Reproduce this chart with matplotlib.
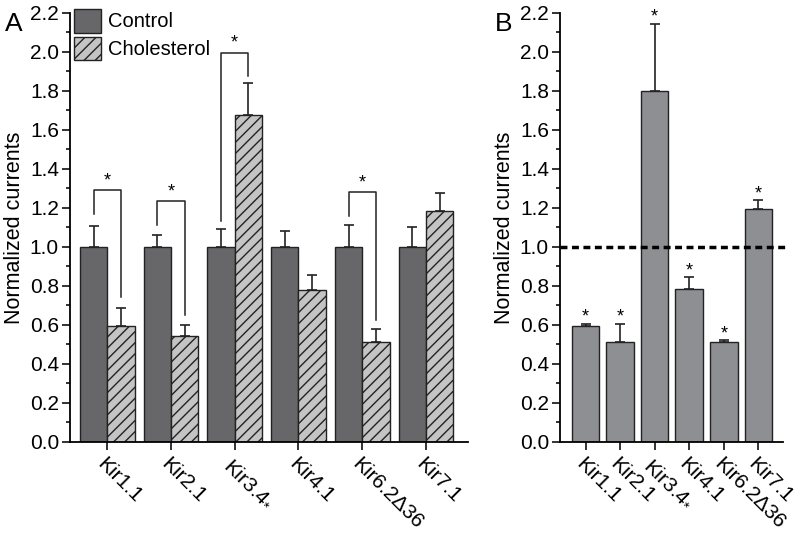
import numpy as np
import matplotlib
matplotlib.use("Agg")
import matplotlib.pyplot as plt
from matplotlib.ticker import MultipleLocator
from matplotlib.patches import Patch

plt.rcParams['font.family'] = ['Liberation Sans', 'DejaVu Sans']
plt.rcParams['mathtext.fontset'] = 'custom'
plt.rcParams['mathtext.rm'] = 'Liberation Sans'
plt.rcParams['hatch.linewidth'] = 1.0

# data
channels = ["Kir1.1", "Kir2.1", "Kir3.4$_{*}$", "Kir4.1", "Kir6.2\u039436", "Kir7.1"]
control = [1.0, 1.0, 1.0, 1.0, 1.0, 1.0]
control_err = [0.105, 0.06, 0.093, 0.08, 0.112, 0.10]
chol = [0.593, 0.545, 1.678, 0.778, 0.511, 1.185]
chol_err = [0.093, 0.055, 0.164, 0.078, 0.07, 0.09]
# brackets: group index, bar top y, left leg bottom, right leg bottom
brackets = [(0, 1.29, 1.17, 0.745), (1, 1.233, 1.114, 0.65),
            (2, 1.996, 1.131, 1.878), (4, 1.28, 1.16, 0.625)]

ratio = [0.592, 0.51, 1.80, 0.785, 0.511, 1.195]
ratio_err = [0.015, 0.095, 0.345, 0.06, 0.01, 0.045]

dark = "#676769"
light = "#c4c4c4"
mid = "#8e8f93"
edge = "#222222"
fs_tick = 15
fs_lab = 15.5

fig = plt.figure(figsize=(8, 5.37), dpi=100)

def style_axes(ax):
    ax.spines['top'].set_visible(False)
    ax.spines['right'].set_visible(False)
    ax.spines['left'].set_linewidth(1.3)
    ax.spines['bottom'].set_linewidth(1.3)
    ax.set_ylim(0, 2.2)
    ax.yaxis.set_major_locator(MultipleLocator(0.2))
    ax.yaxis.set_minor_locator(MultipleLocator(0.1))
    ax.yaxis.set_major_formatter(matplotlib.ticker.FormatStrFormatter('%.1f'))
    ax.tick_params(axis='y', which='major', length=6, width=1.3, labelsize=fs_tick, pad=2, color=edge)
    ax.tick_params(axis='y', which='minor', length=3, width=1.3, color=edge)
    ax.tick_params(axis='x', which='major', length=6, width=1.3, labelsize=fs_tick, pad=3, color=edge)
    ax.set_ylabel("Normalized currents", fontsize=fs_lab, labelpad=3)

# ---- panel A
axA = fig.add_axes([0.0875, 0.177, 0.4975, 0.799])
x = np.arange(len(channels))
w = 0.43
axA.bar(x - w / 2, control, w, color=dark, edgecolor=edge, linewidth=1.0, zorder=2)
axA.bar(x + w / 2, chol, w, color=light, edgecolor=edge, linewidth=1.0, hatch='///', zorder=2)
axA.errorbar(x - w / 2, control, yerr=[np.zeros(6), control_err], fmt='none',
             ecolor=edge, elinewidth=1.2, capsize=3.5, capthick=1.2, zorder=1)
axA.errorbar(x + w / 2, chol, yerr=[np.zeros(6), chol_err], fmt='none',
             ecolor=edge, elinewidth=1.2, capsize=3.5, capthick=1.2, zorder=1)
for g, top, lb, rb in brackets:
    xl, xr = g - w / 2, g + w / 2
    axA.plot([xl, xl, xr, xr], [lb, top, top, rb], color=edge, lw=1.1, zorder=3)
    axA.text(g, top + 0.005, "*", ha='center', va='bottom', fontsize=13)
axA.set_xlim(-0.585, 5.66)
axA.set_xticks(x)
axA.set_xticklabels(channels, rotation=-45, ha='left', rotation_mode='anchor')
style_axes(axA)
handles = [Patch(facecolor=dark, edgecolor=edge, label="Control"),
           Patch(facecolor=light, edgecolor=edge, hatch='///', label="Cholesterol")]
axA.legend(handles=handles, loc='upper left', bbox_to_anchor=(0.01, 1.01), frameon=False,
           fontsize=14.5, handlelength=1.35, handleheight=1.45, handletextpad=0.35,
           labelspacing=0.2, borderpad=0, borderaxespad=0)
fig.text(0.006, 0.978, "A", fontsize=19, va='top', ha='left')

# ---- panel B
axB = fig.add_axes([0.70, 0.177, 0.279, 0.799])
xb = np.arange(len(channels))
axB.bar(xb, ratio, 0.8, color=mid, edgecolor=edge, linewidth=1.0, zorder=2)
axB.errorbar(xb, ratio, yerr=[np.zeros(6), ratio_err], fmt='none',
             ecolor=edge, elinewidth=1.2, capsize=3.5, capthick=1.2, zorder=1)
for i in range(len(ratio)):
    axB.text(xb[i], ratio[i] + ratio_err[i] - 0.01, "*", ha='center', va='bottom', fontsize=13)
axB.axhline(1.0, xmin=0, xmax=1.01, color='black', lw=2.5, ls=(0, (2, 1.3)),
            clip_on=False, zorder=4)
axB.set_xlim(-0.74, 5.72)
axB.set_xticks(xb)
axB.set_xticklabels(channels, rotation=-45, ha='left', rotation_mode='anchor')
style_axes(axB)
fig.text(0.618, 0.978, "B", fontsize=19, va='top', ha='left')

fig.savefig("out.png", dpi=100)
